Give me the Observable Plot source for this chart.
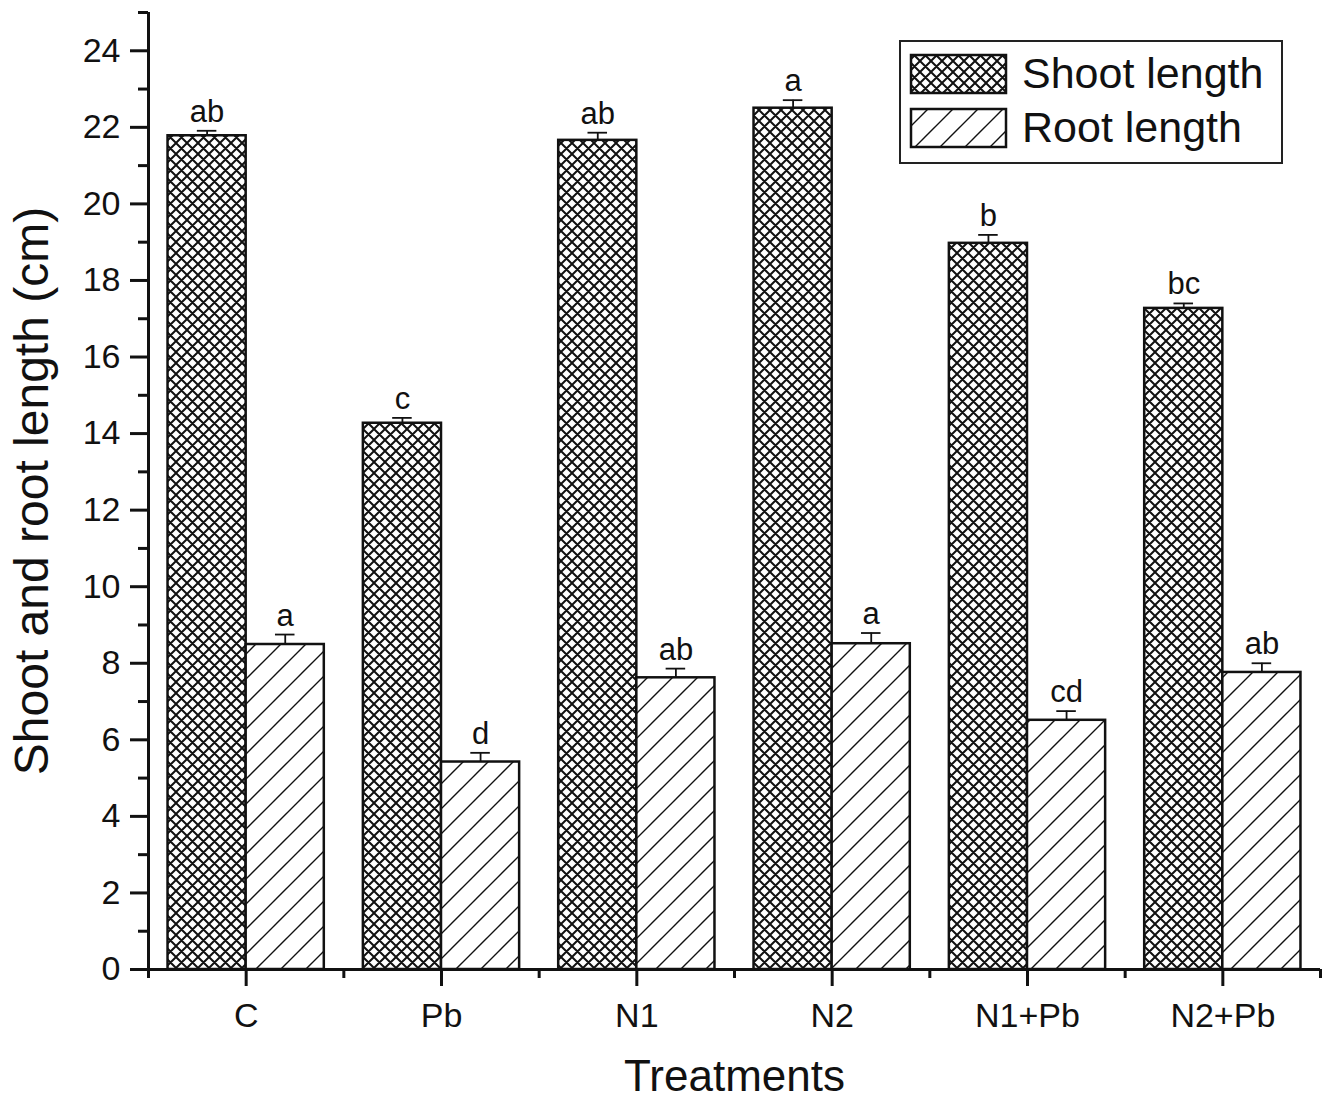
<!DOCTYPE html>
<html>
<head>
<meta charset="utf-8">
<script src="https://cdn.jsdelivr.net/npm/d3@7"></script>
<script src="https://cdn.jsdelivr.net/npm/@observablehq/plot@0.6"></script>
<style>
  html, body { margin: 0; padding: 0; background: #fff; }
  #wrap { position: relative; width: 1326px; height: 1102px; font-family: "Liberation Sans", Arial, sans-serif; }
  #legend { position: absolute; left: 898px; top: 39px; }
</style>
</head>
<body>
<div id="wrap"></div>
<script>
// ---- data ----
const categories = ["C", "Pb", "N1", "N2", "N1+Pb", "N2+Pb"];
const seriesNames = ["Shoot length", "Root length"];
const shootLength = [21.78, 14.27, 21.66, 22.50, 18.97, 17.27];
const shootError  = [0.13, 0.14, 0.20, 0.21, 0.22, 0.13];
const shootLetters = ["ab", "c", "ab", "a", "b", "bc"];
const rootLength = [8.49, 5.42, 7.62, 8.51, 6.51, 7.76];
const rootError  = [0.26, 0.24, 0.24, 0.28, 0.24, 0.24];
const rootLetters = ["a", "d", "ab", "a", "cd", "ab"];
const yMajorTicks = d3.range(0, 25, 2);
const yMinorTicks = d3.range(1, 26, 2);

// ---- table for the library ----
const barShare = 0.4; // each bar takes 40% of a category step
const rows = categories.flatMap((cat, i) => [
  {cat, i, series: seriesNames[0], value: shootLength[i], err: shootError[i], letter: shootLetters[i],
   x1: i - barShare, x2: i, xc: i - barShare / 2},
  {cat, i, series: seriesNames[1], value: rootLength[i], err: rootError[i], letter: rootLetters[i],
   x1: i, x2: i + barShare, xc: i + barShare / 2}
]);
const shootRows = rows.filter(d => d.series === seriesNames[0]);
const rootRows = rows.filter(d => d.series === seriesNames[1]);
const ink = "#111";
const capHalf = 0.05;

const chart = Plot.plot({
  width: 1326,
  height: 1102,
  marginTop: 12,
  marginRight: 6,
  marginBottom: 133,
  marginLeft: 148,
  style: {fontFamily: "'Liberation Sans', Arial, sans-serif", background: "#fff", color: ink},
  x: {domain: [-0.5, categories.length - 0.5]},
  y: {domain: [0, 25]},
  marks: [
    Plot.rectY(shootRows, {x1: "x1", x2: "x2", y: "value", fill: "url(#crossPat)", stroke: ink, strokeWidth: 2.5}),
    Plot.rectY(rootRows, {x1: "x1", x2: "x2", y: "value", fill: "url(#hatchPat)", stroke: ink, strokeWidth: 2.5}),
    Plot.ruleX(rows, {x: "xc", y1: "value", y2: d => d.value + d.err, stroke: ink, strokeWidth: 1.8}),
    Plot.ruleY(rows, {y: d => d.value + d.err, x1: d => d.xc - capHalf, x2: d => d.xc + capHalf, stroke: ink, strokeWidth: 1.8}),
    Plot.text(rows, {x: "xc", y: d => d.value + d.err, text: "letter", dy: -9, lineAnchor: "bottom", fontSize: 31, fill: ink}),
    Plot.ruleX([-0.5], {stroke: ink, strokeWidth: 3}),
    Plot.ruleY([0], {stroke: ink, strokeWidth: 3}),
    Plot.axisY({ticks: yMajorTicks, tickSize: 18, tickPadding: 10, strokeWidth: 3, fontSize: 34, label: null, stroke: ink}),
    Plot.axisY({ticks: yMinorTicks, tickSize: 10, strokeWidth: 3, text: null, label: null, stroke: ink}),
    Plot.axisY({ticks: [], label: "Shoot and root length (cm)", labelAnchor: "center", labelArrow: "none", labelOffset: 135, fontSize: 48}),
    Plot.axisX({ticks: d3.range(0, categories.length), tickSize: 17, tickPadding: 16, tickFormat: i => categories[i], strokeWidth: 3, fontSize: 34, label: null, stroke: ink}),
    Plot.axisX({ticks: d3.range(-0.5, categories.length, 1), tickSize: 9, strokeWidth: 3, text: null, label: null, stroke: ink}),
    Plot.axisX({ticks: [], label: "Treatments", labelAnchor: "center", labelArrow: "none", labelOffset: 121, fontSize: 44})
  ]
});

function addPatterns(svgSel, suffix) {
  const defs = svgSel.insert("defs", ":first-child");
  const cross = defs.append("pattern").attr("id", "crossPat" + suffix)
    .attr("patternUnits", "userSpaceOnUse").attr("width", 11).attr("height", 11);
  cross.append("rect").attr("width", 11).attr("height", 11).attr("fill", "#fff");
  cross.append("path").attr("d", "M0,0L11,11M11,0L0,11M-1,1L1,-1M10,12L12,10M-1,10L1,12M10,-1L12,1")
    .attr("stroke", ink).attr("stroke-width", 2).attr("fill", "none");
  const hatch = defs.append("pattern").attr("id", "hatchPat" + suffix)
    .attr("patternUnits", "userSpaceOnUse").attr("width", 25).attr("height", 25);
  hatch.append("rect").attr("width", 25).attr("height", 25).attr("fill", "#fff");
  hatch.append("path").attr("d", "M0,25L25,0M-5,5L5,-5M20,30L30,20").attr("stroke", ink).attr("stroke-width", 1.4).attr("fill", "none");
}
addPatterns(d3.select(chart), "");
document.getElementById("wrap").appendChild(chart);

// ---- legend (drawn inside the plot area, top right) ----
const legend = d3.select("#wrap").append("svg").attr("id", "legend").attr("width", 388).attr("height", 128);
addPatterns(legend, "L");
legend.append("rect").attr("x", 2).attr("y", 2).attr("width", 382).attr("height", 122)
  .attr("fill", "#fff").attr("stroke", "#222").attr("stroke-width", 2);
const fills = ["url(#crossPatL)", "url(#hatchPatL)"];
seriesNames.forEach((name, k) => {
  legend.append("rect").attr("x", 13).attr("y", 16 + k * 54).attr("width", 95).attr("height", 38)
    .attr("fill", fills[k]).attr("stroke", ink).attr("stroke-width", 2.5);
  legend.append("text").attr("x", 124).attr("y", 49 + k * 54).text(name)
    .attr("font-size", 43).attr("fill", ink).attr("font-family", "'Liberation Sans', Arial, sans-serif");
});
</script>
</body>
</html>
